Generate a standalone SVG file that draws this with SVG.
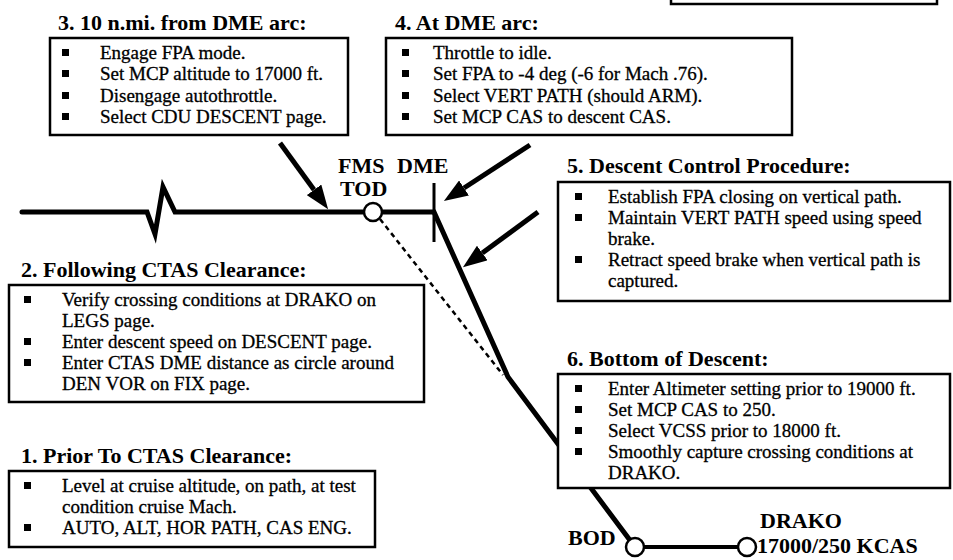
<svg xmlns="http://www.w3.org/2000/svg" width="953" height="560" viewBox="0 0 953 560">
<style>
.title{font-family:"Liberation Serif","Times New Roman",serif;font-weight:bold;font-size:22px;fill:#000}
.body{font-family:"Liberation Serif","Times New Roman",serif;font-size:19px;fill:#000;stroke:#000;stroke-width:0.3}
.box{fill:#fff;stroke:#000;stroke-width:2.5}
.bul{fill:#000}
.path{fill:none;stroke:#000;stroke-width:5;stroke-linejoin:miter;stroke-linecap:round}
.arrow{fill:none;stroke:#000;stroke-width:5}
.pt{fill:#fff;stroke:#000;stroke-width:2.5}
</style>
<defs>
<marker id="ah" markerUnits="userSpaceOnUse" markerWidth="24" markerHeight="18" refX="0" refY="9" orient="auto">
<path d="M0,0 L24,9 L0,18 z" fill="#000"/>
</marker>
</defs>
<rect width="953" height="560" fill="#fff"/>

<g id="corner-box">
<rect class="box" x="671" y="-10" width="266" height="14"/>
</g>

<g id="connectors">
<path class="path" d="M22,212 L147,212 L155,234 L163,187 L175,212 L434,212 L508,377 L629.6,539.8"/>
<line x1="434" y1="183" x2="434" y2="242" stroke="#000" stroke-width="3"/>
<line x1="380" y1="219" x2="503" y2="375" stroke="#000" stroke-width="2.5" stroke-dasharray="5 4"/>
<line x1="635" y1="547" x2="747" y2="547" stroke="#000" stroke-width="4"/>
<line class="arrow" x1="280" y1="143" x2="314" y2="189.8" marker-end="url(#ah)"/>
<line class="arrow" x1="530" y1="145" x2="464" y2="188" marker-end="url(#ah)"/>
<line class="arrow" x1="538" y1="212" x2="482.3" y2="253" marker-end="url(#ah)"/>
</g>

<g id="tod">
<circle class="pt" cx="373" cy="212" r="9"/>
<text class="title" x="338" y="173">FMS</text>
<text class="title" x="340" y="196">TOD</text>
</g>
<g id="dme">
<text class="title" x="397" y="173">DME</text>
</g>
<g id="bod">
<circle class="pt" cx="635" cy="547" r="9"/>
<text class="title" x="568" y="545">BOD</text>
</g>
<g id="drako">
<circle class="pt" cx="747" cy="547" r="9"/>
<text class="title" x="760" y="528">DRAKO</text>
<text class="title" x="757" y="553">17000/250 KCAS</text>
</g>

<g id="step3">
<text class="title" x="58" y="30">3. 10 n.mi. from DME arc:</text>
<rect class="box" x="50" y="38" width="298" height="97"/>
<rect class="bul" x="62" y="49" width="7" height="7"/>
<rect class="bul" x="62" y="70" width="7" height="7"/>
<rect class="bul" x="62" y="92" width="7" height="7"/>
<rect class="bul" x="62" y="113" width="7" height="7"/>
<text class="body" x="100" y="59">Engage FPA mode.</text>
<text class="body" x="100" y="80">Set MCP altitude to 17000 ft.</text>
<text class="body" x="100" y="102">Disengage autothrottle.</text>
<text class="body" x="100" y="123">Select CDU DESCENT page.</text>
</g>

<g id="step4">
<text class="title" x="395" y="30">4. At DME arc:</text>
<rect class="box" x="386" y="38" width="406" height="97"/>
<rect class="bul" x="402" y="49" width="7" height="7"/>
<rect class="bul" x="402" y="70" width="7" height="7"/>
<rect class="bul" x="402" y="92" width="7" height="7"/>
<rect class="bul" x="402" y="113" width="7" height="7"/>
<text class="body" x="433" y="59">Throttle to idle.</text>
<text class="body" x="433" y="80">Set FPA to -4 deg (-6 for Mach .76).</text>
<text class="body" x="433" y="102">Select VERT PATH (should ARM).</text>
<text class="body" x="433" y="123">Set MCP CAS to descent CAS.</text>
</g>

<g id="step5">
<text class="title" x="567" y="173">5. Descent Control Procedure:</text>
<rect class="box" x="558" y="182" width="392" height="119"/>
<rect class="bul" x="575" y="193" width="7" height="7"/>
<rect class="bul" x="575" y="214" width="7" height="7"/>
<rect class="bul" x="575" y="256" width="7" height="7"/>
<text class="body" x="608" y="203">Establish FPA closing on vertical path.</text>
<text class="body" x="608" y="224">Maintain VERT PATH speed using speed</text>
<text class="body" x="608" y="245">brake.</text>
<text class="body" x="608" y="266">Retract speed brake when vertical path is</text>
<text class="body" x="608" y="287">captured.</text>
</g>

<g id="step2">
<text class="title" x="21" y="277">2. Following CTAS Clearance:</text>
<rect class="box" x="9" y="285" width="415" height="117"/>
<rect class="bul" x="24" y="296" width="7" height="7"/>
<rect class="bul" x="24" y="338" width="7" height="7"/>
<rect class="bul" x="24" y="359" width="7" height="7"/>
<text class="body" x="62" y="306">Verify crossing conditions at DRAKO on</text>
<text class="body" x="62" y="327">LEGS page.</text>
<text class="body" x="62" y="348">Enter descent speed on DESCENT page.</text>
<text class="body" x="62" y="369">Enter CTAS DME distance as circle around</text>
<text class="body" x="62" y="390">DEN VOR on FIX page.</text>
</g>

<g id="step6">
<text class="title" x="567" y="366">6. Bottom of Descent:</text>
<rect class="box" x="558" y="374" width="392" height="114"/>
<rect class="bul" x="575" y="385" width="7" height="7"/>
<rect class="bul" x="575" y="406" width="7" height="7"/>
<rect class="bul" x="575" y="427" width="7" height="7"/>
<rect class="bul" x="575" y="448" width="7" height="7"/>
<text class="body" x="608" y="395">Enter Altimeter setting prior to 19000 ft.</text>
<text class="body" x="608" y="416">Set MCP CAS to 250.</text>
<text class="body" x="608" y="437">Select VCSS prior to 18000 ft.</text>
<text class="body" x="608" y="458">Smoothly capture crossing conditions at</text>
<text class="body" x="608" y="479">DRAKO.</text>
</g>

<g id="step1">
<text class="title" x="21" y="463">1. Prior To CTAS Clearance:</text>
<rect class="box" x="9" y="471" width="366" height="76"/>
<rect class="bul" x="24" y="482" width="7" height="7"/>
<rect class="bul" x="24" y="524" width="7" height="7"/>
<text class="body" x="62" y="492">Level at cruise altitude, on path, at test</text>
<text class="body" x="62" y="513">condition cruise Mach.</text>
<text class="body" x="62" y="534">AUTO, ALT, HOR PATH, CAS ENG.</text>
</g>
</svg>
